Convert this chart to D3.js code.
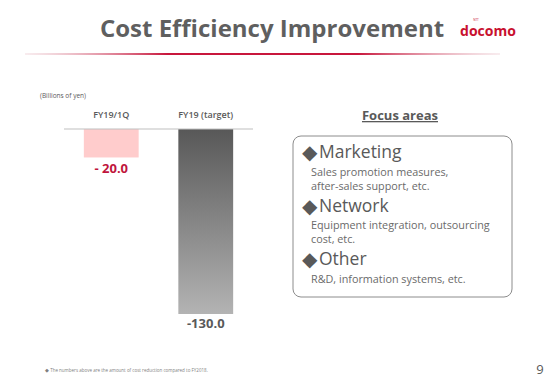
<!DOCTYPE html>
<html><head><meta charset="utf-8">
<script src="https://cdn.jsdelivr.net/npm/d3@7"></script>
<style>body{margin:0;background:#fff}svg{display:block}text{font-family:"Open Sans","Noto Sans",sans-serif}</style>
</head><body>
<svg id="c" width="551" height="381"></svg>
<script>
const categories = ["FY19/1Q", "FY19 (target)"];
const values = [-20.0, -130.0];
const valueLabels = ["- 20.0", "-130.0"];
const focusAreas = [
  {head: "Marketing", lines: ["Sales promotion measures,", "after-sales support, etc."]},
  {head: "Network", lines: ["Equipment integration, outsourcing", "cost, etc."]},
  {head: "Other", lines: ["R&D, information systems, etc."]}
];

const svg = d3.select("#c");
const defs = svg.append("defs");
const lg = defs.append("linearGradient").attr("id","rule").attr("x1","0").attr("x2","1");
lg.append("stop").attr("offset","0").attr("stop-color","#e8c0c8").attr("stop-opacity",0.3);
lg.append("stop").attr("offset","0.3").attr("stop-color","#c8163c");
lg.append("stop").attr("offset","0.7").attr("stop-color","#c8163c");
lg.append("stop").attr("offset","1").attr("stop-color","#e8c0c8").attr("stop-opacity",0.3);
const bg = defs.append("linearGradient").attr("id","bar2").attr("x1","0").attr("x2","0").attr("y1","0").attr("y2","1");
bg.append("stop").attr("offset","0").attr("stop-color","#585858");
bg.append("stop").attr("offset","1").attr("stop-color","#b3b3b3");

// Title
svg.append("text").attr("x",272).attr("y",37).attr("text-anchor","middle")
  .attr("font-size",24).attr("font-weight","bold").attr("fill","#5f5f5f")
  .attr("font-family","Lato, 'Open Sans', sans-serif").text("Cost Efficiency Improvement");
svg.append("rect").attr("x",25).attr("y",53).attr("width",475).attr("height",2).attr("fill","url(#rule)");
svg.append("text").attr("x",488).attr("y",36).attr("text-anchor","middle")
  .attr("font-size",14).attr("font-weight","bold").attr("fill","#c8102e")
  .attr("font-family","Roboto, sans-serif").text("docomo");
svg.append("text").attr("x",476).attr("y",21).attr("text-anchor","middle")
  .attr("font-size",3).attr("fill","#c8102e").text("NTT");

// Chart
const x = d3.scaleBand().domain(categories).range([64,253]).paddingInner(0.42).paddingOuter(0.21);
const y = d3.scaleLinear().domain([0,-130]).range([129,314]);
svg.append("text").attr("x",40).attr("y",98).attr("font-size",6.5).attr("fill","#595959").text("(Billions of yen)");
svg.append("g").selectAll("text").data(categories).join("text")
  .attr("x",d=>x(d)+x.bandwidth()/2).attr("y",118).attr("text-anchor","middle")
  .attr("font-size",9).attr("font-weight","600").attr("fill","#595959").text(d=>d);
svg.append("g").selectAll("rect").data(values).join("rect")
  .attr("x",(d,i)=>x(categories[i])).attr("y",y(0))
  .attr("width",x.bandwidth()).attr("height",d=>y(d)-y(0))
  .attr("fill",(d,i)=>i===0?"#ffcccc":"url(#bar2)");
svg.append("line").attr("x1",64).attr("x2",253).attr("y1",y(0)).attr("y2",y(0)).attr("stroke","#bfbfbf").attr("stroke-width",1);
svg.append("g").selectAll("text").data(values).join("text")
  .attr("x",(d,i)=>x(categories[i])+x.bandwidth()/2).attr("y",d=>y(d)+(d===-20?16:14))
  .attr("text-anchor","middle").attr("font-size",13).attr("font-weight","bold")
  .attr("fill",(d,i)=>i===0?"#c0143c":"#595959").text((d,i)=>valueLabels[i]);

// Focus areas
svg.append("text").attr("x",400).attr("y",120).attr("text-anchor","middle")
  .attr("font-size",13).attr("font-weight","bold").attr("fill","#595959")
  .attr("text-decoration","underline").text("Focus areas");
svg.append("rect").attr("x",293).attr("y",136).attr("width",219).attr("height",161).attr("rx",8)
  .attr("fill","#fff").attr("stroke","#8c8c8c").attr("stroke-width",1);
const heads = [158,212,265];
const subs = [[176,190],[229,243],[283]];
focusAreas.forEach((f,i)=>{
  const t = svg.append("text").attr("x",302).attr("y",heads[i]).attr("font-size",17.5).attr("fill","#595959");
  t.append("tspan").attr("font-size",20).attr("dy",1).text("\u25C6");
  t.append("tspan").attr("x",319).attr("dy",-1).text(f.head);
  f.lines.forEach((l,j)=>svg.append("text").attr("x",311).attr("y",subs[i][j])
    .attr("font-size",10.8).attr("fill","#6a6a6a").text(l));
});

// Footer
svg.append("text").attr("x",45).attr("y",372).attr("font-size",4.5).attr("fill","#7f7f7f")
  .text("\u25C6 The numbers above are the amount of cost reduction compared to FY2018.");
svg.append("text").attr("x",540).attr("y",374).attr("text-anchor","middle").attr("font-size",13).attr("fill","#595959").text("9");
</script>
</body></html>
